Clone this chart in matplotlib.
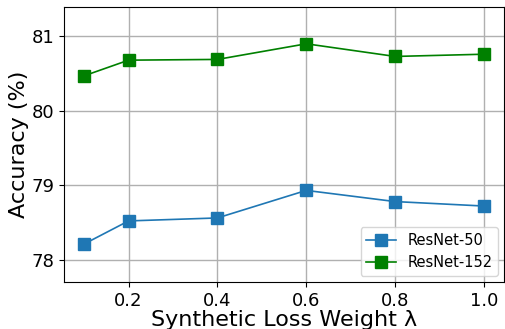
import matplotlib
matplotlib.use("Agg")
import matplotlib.pyplot as plt

lambdas = [0.1, 0.2, 0.4, 0.6, 0.8, 1.0]
resnet50 = [78.21, 78.52, 78.56, 78.93, 78.78, 78.72]
resnet152 = [80.47, 80.68, 80.69, 80.90, 80.73, 80.76]

fig, ax = plt.subplots(figsize=(5.05, 3.29), dpi=100)
ax.plot(lambdas, resnet50, color="#1f77b4", marker="s", ms=8, lw=1.2, label="ResNet-50")
ax.plot(lambdas, resnet152, color="green", marker="s", ms=8, lw=1.2, label="ResNet-152")
ax.set_ylim(77.7, 81.4)
ax.set_xticks([0.2, 0.4, 0.6, 0.8, 1.0])
ax.set_yticks([78, 79, 80, 81])
ax.tick_params(labelsize=13)
ax.set_xlabel("Synthetic Loss Weight λ", fontsize=16, labelpad=0)
ax.set_ylabel("Accuracy (%)", fontsize=16, labelpad=2)
ax.grid(True, lw=1.0, color="#b0b0b0")
ax.legend(fontsize=10.5, loc="lower right", borderaxespad=0.4)
fig.subplots_adjust(left=0.127, right=0.998, top=0.98, bottom=0.143)
fig.savefig("out.png")
